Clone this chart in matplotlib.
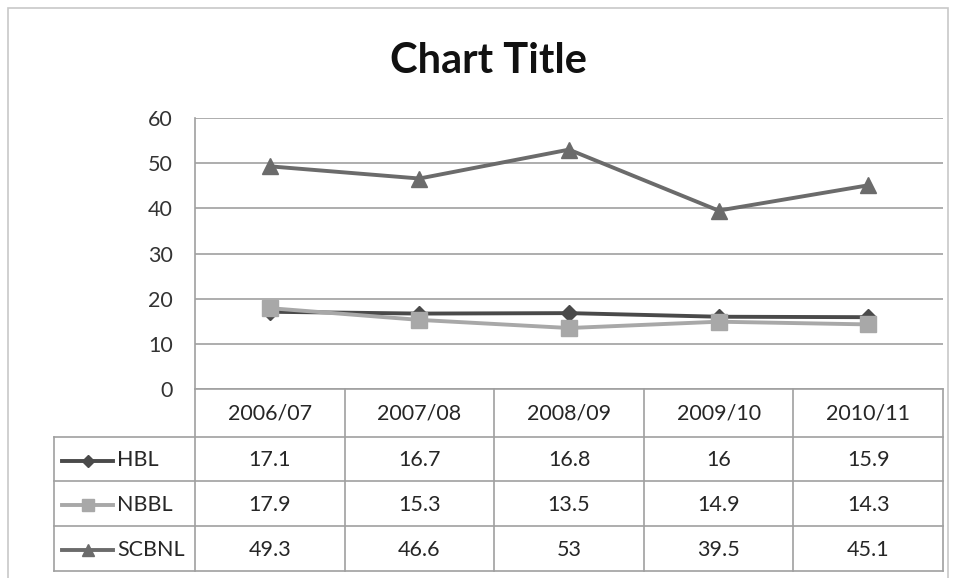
import matplotlib.pyplot as plt
import numpy as np
from matplotlib.lines import Line2D
from matplotlib.patches import Rectangle
from matplotlib.transforms import blended_transform_factory

plt.rcParams['font.family'] = ['Lato', 'DejaVu Sans']

# data
years = ['2006/07', '2007/08', '2008/09', '2009/10', '2010/11']
hbl = [17.1, 16.7, 16.8, 16, 15.9]
nbbl = [17.9, 15.3, 13.5, 14.9, 14.3]
scbnl = [49.3, 46.6, 53, 39.5, 45.1]
names = ['HBL', 'NBBL', 'SCBNL']
series = [hbl, nbbl, scbnl]
colors = ['#4a4a4a', '#a8a8a8', '#6b6b6b']
markers = ['D', 's', '^']
msizes = [8, 11, 12]

W, H = 956, 578
fig = plt.figure(figsize=(W / 100, H / 100), dpi=100)


def fx(x):
    return x / W


def fy(y):
    return 1 - y / H


# plot area in pixels
L, R, T, B = 195, 943, 118, 389
ax = fig.add_axes([fx(L), fy(B), fx(R - L), (B - T) / H])

x = np.arange(len(years))
for vals, c, m, ms in zip(series, colors, markers, msizes):
    ax.plot(x, vals, color=c, lw=2.8, marker=m, markersize=ms,
            markerfacecolor=c, markeredgecolor=c, clip_on=False, zorder=3)

ax.set_xlim(-0.5, len(years) - 0.5)
ax.set_ylim(0, 60)
ax.set_yticks(range(0, 61, 10))
ax.set_xticks([])
ax.yaxis.grid(True, color='#a0a0a0', lw=1.2)
ax.set_axisbelow(True)
for s in ['top', 'right']:
    ax.spines[s].set_visible(False)
ax.spines['left'].set_color('#a0a0a0')
ax.spines['bottom'].set_color('#a0a0a0')
ax.spines['left'].set_linewidth(1.2)
ax.spines['bottom'].set_linewidth(1.2)
ax.tick_params(axis='y', length=0, pad=16, labelsize=15.5, labelcolor='#333333')

fig.text(fx(489), fy(61), 'Chart Title', ha='center', va='center',
         fontsize=30, fontweight='bold', color='#111111')

# data table below the axes
tr = blended_transform_factory(ax.transData, fig.transFigure)
grid_c = '#a0a0a0'
rows = [389, 437, 481, 526, 571]
tab_left = 54
fs = 15.5


def hline(x0, x1, y):
    fig.add_artist(Line2D([fx(x0), fx(x1)], [fy(y), fy(y)], color=grid_c, lw=1.2))


def vline(xp, y0, y1):
    fig.add_artist(Line2D([fx(xp), fx(xp)], [fy(y0), fy(y1)], color=grid_c, lw=1.2))


for y in rows[1:]:
    hline(tab_left, R, y)
col_w = (R - L) / len(years)
for i in range(len(years) + 1):
    vline(L + i * col_w, rows[0], rows[-1])
vline(tab_left, rows[1], rows[-1])

for i, yr in enumerate(years):
    fig.text(i, fy((rows[0] + rows[1]) / 2 + 1), yr, transform=tr, ha='center',
             va='center', fontsize=fs, color='#262626')

for r, (nm, vals, c, m, ms) in enumerate(zip(names, series, colors, markers, msizes)):
    yc = fy((rows[r + 1] + rows[r + 2]) / 2 + 1.5)
    fig.add_artist(Line2D([fx(62), fx(113)], [yc, yc], color=c, lw=2.8))
    fig.add_artist(Line2D([fx(88)], [yc], color=c, marker=m, markersize=ms * 0.75,
                          markerfacecolor=c, markeredgecolor=c))
    fig.text(fx(117), yc, nm, ha='left', va='center', fontsize=fs, color='#262626')
    for i, v in enumerate(vals):
        fig.text(i, yc, f'{v:g}', transform=tr, ha='center', va='center',
                 fontsize=fs, color='#262626')

# chart border (bottom edge is cut off in the picture)
fig.add_artist(Rectangle((fx(8), fy(600)), fx(940), (600 - 8) / H,
                         fill=False, edgecolor='#c8c8c8', lw=1.2))

fig.savefig('out.png', dpi=100)
